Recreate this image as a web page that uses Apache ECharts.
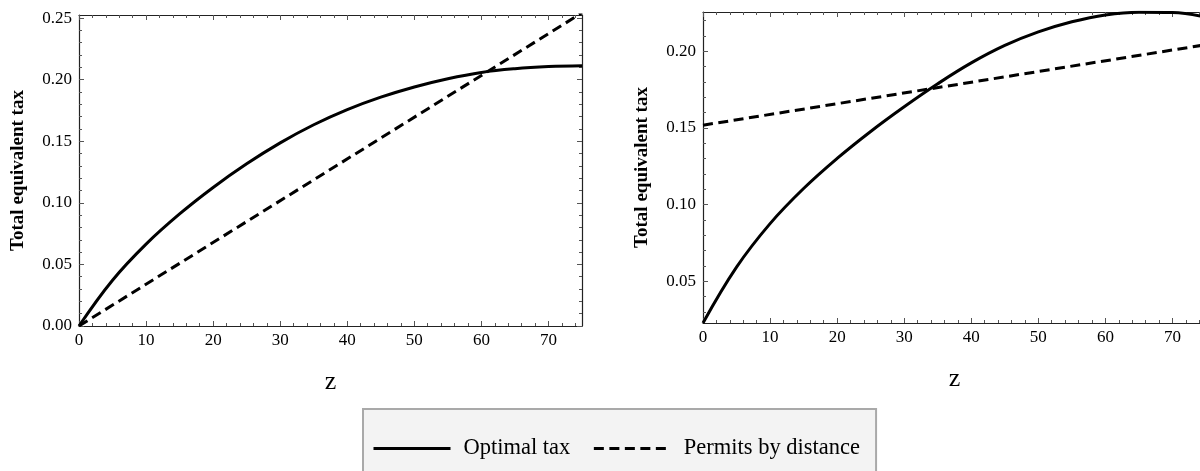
<!DOCTYPE html>
<html>
<head>
<meta charset="utf-8">
<script src="https://cdn.jsdelivr.net/npm/echarts@6/dist/echarts.min.js"></script>
<style>
  html, body { margin: 0; padding: 0; background: #ffffff; }
  #chart { width: 1200px; height: 471px; }
</style>
</head>
<body>
<div id="chart"></div>
<script>
// Distance grid shared by both "Optimal tax" curves
const zGrid = [0, 5, 10, 15, 20, 25, 30, 35, 40, 45, 50, 55, 60, 65, 70, 75];

// Left panel
const optimalLeft = [0, 0.0372, 0.0665, 0.0910, 0.1125, 0.1317, 0.1487, 0.1634,
                     0.1757, 0.1858, 0.1941, 0.2008, 0.2059, 0.2089, 0.2106, 0.2113];
// Right panel
const optimalRight = [0.0228, 0.0592, 0.0876, 0.1105, 0.1301, 0.1477, 0.1638, 0.1788,
                      0.1924, 0.2038, 0.2126, 0.2192, 0.2237, 0.2255, 0.2252, 0.2222];

// "Permits by distance" is linear in z: values at both ends
const zEnds = [0, 75];
const permitsLeft = [0, 0.2543];
const permitsRight = [0.1518, 0.2043];

// Axis ranges and tick labels
const xRange = [0, 75];
const yRangeLeft = [0, 0.2525];
const yRangeRight = [0.0228, 0.2256];
const xTickLabels = [0, 10, 20, 30, 40, 50, 60, 70];
const yTickLabelsLeft = [0, 0.05, 0.10, 0.15, 0.20, 0.25];
const yTickLabelsRight = [0.05, 0.10, 0.15, 0.20];

const SERIF = "'Liberation Serif', 'Times New Roman', serif";

// Minor tick positions: every 2 on z, every 0.01 on the tax axis (skipping the major ones)
function minorX(range) {
  const out = [];
  for (let k = Math.ceil(range[0] / 2); k * 2 <= range[1]; k++) {
    if ((k * 2) % 10 !== 0) out.push(k * 2);
  }
  return out;
}
function minorY(range) {
  const out = [];
  for (let k = Math.ceil(range[0] * 100 - 1e-9); k <= Math.floor(range[1] * 100 + 1e-9); k++) {
    if (k % 5 !== 0) out.push(k / 100);
  }
  return out;
}

function pairs(xs, ys) { return xs.map((x, i) => [x, ys[i]]); }

// One frame side: an axis line with inward ticks
function side(gridIndex, range, position, ticks, len, showLine, extra) {
  return Object.assign({
    type: 'value', gridIndex: gridIndex, min: range[0], max: range[1], position: position,
    axisLine: { show: showLine, onZero: false, lineStyle: { color: '#222', width: 1.2 } },
    axisTick: { show: true, inside: true, length: len, customValues: ticks,
                lineStyle: { color: '#555', width: 1 } },
    axisLabel: { show: false },
    splitLine: { show: false },
    silent: true
  }, extra || {});
}

function xAxesFor(g) {
  return [
    side(g, xRange, 'bottom', xTickLabels, 5, true, {
      axisLabel: { show: true, customValues: xTickLabels, fontFamily: SERIF, fontSize: 17,
                   color: '#000', margin: 6 },
      name: 'z', nameLocation: 'middle', nameGap: 43,
      nameTextStyle: { fontFamily: SERIF, fontSize: 26, color: '#000' }
    }),
    side(g, xRange, 'bottom', minorX(xRange), 3, false),
    side(g, xRange, 'top', xTickLabels, 5, true),
    side(g, xRange, 'top', minorX(xRange), 3, false)
  ];
}

function yAxesFor(g, range, majors) {
  return [
    side(g, range, 'left', majors, 5, true, {
      axisLabel: { show: true, customValues: majors, fontFamily: SERIF, fontSize: 17,
                   color: '#000', margin: 7, formatter: v => Number(v).toFixed(2) },
      name: 'Total equivalent tax', nameLocation: 'middle', nameGap: 51, nameRotate: 90,
      nameTextStyle: { fontFamily: SERIF, fontSize: 19, fontWeight: 'bold', color: '#000' }
    }),
    side(g, range, 'left', minorY(range), 3, false),
    side(g, range, 'right', majors, 5, true),
    side(g, range, 'right', minorY(range), 3, false)
  ];
}

const solidStyle = { color: '#000', width: 3 };
const dashedStyle = { color: '#000', width: 3, type: [10, 5.5] };

function curve(name, xi, data, style, smooth) {
  return {
    name: name, type: 'line', xAxisIndex: xi, yAxisIndex: xi, data: data,
    symbol: 'none', showSymbol: false, smooth: smooth, clip: true,
    lineStyle: style, itemStyle: { color: '#000' }, animation: false, silent: true
  };
}

const option = {
  backgroundColor: '#ffffff',
  animation: false,
  grid: [
    { left: 79, top: 15, width: 503, height: 311, outerBoundsMode: 'none', containLabel: false },
    { left: 703, top: 12, width: 503, height: 311, outerBoundsMode: 'none', containLabel: false }
  ],
  xAxis: xAxesFor(0).concat(xAxesFor(1)),
  yAxis: yAxesFor(0, yRangeLeft, yTickLabelsLeft).concat(yAxesFor(1, yRangeRight, yTickLabelsRight)),
  legend: {
    data: ['Optimal tax', 'Permits by distance'],
    left: 363, top: 409,
    orient: 'horizontal',
    itemWidth: 77, itemHeight: 14, itemGap: 22,
    padding: [28, 16, 40, 9],
    backgroundColor: '#f3f3f3',
    borderColor: '#a9a9a9', borderWidth: 2, borderRadius: 0,
    itemStyle: { color: 'rgba(0,0,0,0)', borderWidth: 0 },
    lineStyle: { width: 3 },
    textStyle: { fontFamily: SERIF, fontSize: 22.5, color: '#000', padding: [0, 0, 0, 8] },
    selectedMode: false
  },
  series: [
    curve('Optimal tax', 0, pairs(zGrid, optimalLeft), solidStyle, 0.4),
    curve('Permits by distance', 0, pairs(zEnds, permitsLeft), dashedStyle, false),
    curve('Optimal tax', 4, pairs(zGrid, optimalRight), solidStyle, 0.4),
    curve('Permits by distance', 4, pairs(zEnds, permitsRight), dashedStyle, false)
  ]
};

const chart = echarts.init(document.getElementById('chart'), null, { renderer: 'canvas' });
chart.setOption(option);
</script>
</body>
</html>
